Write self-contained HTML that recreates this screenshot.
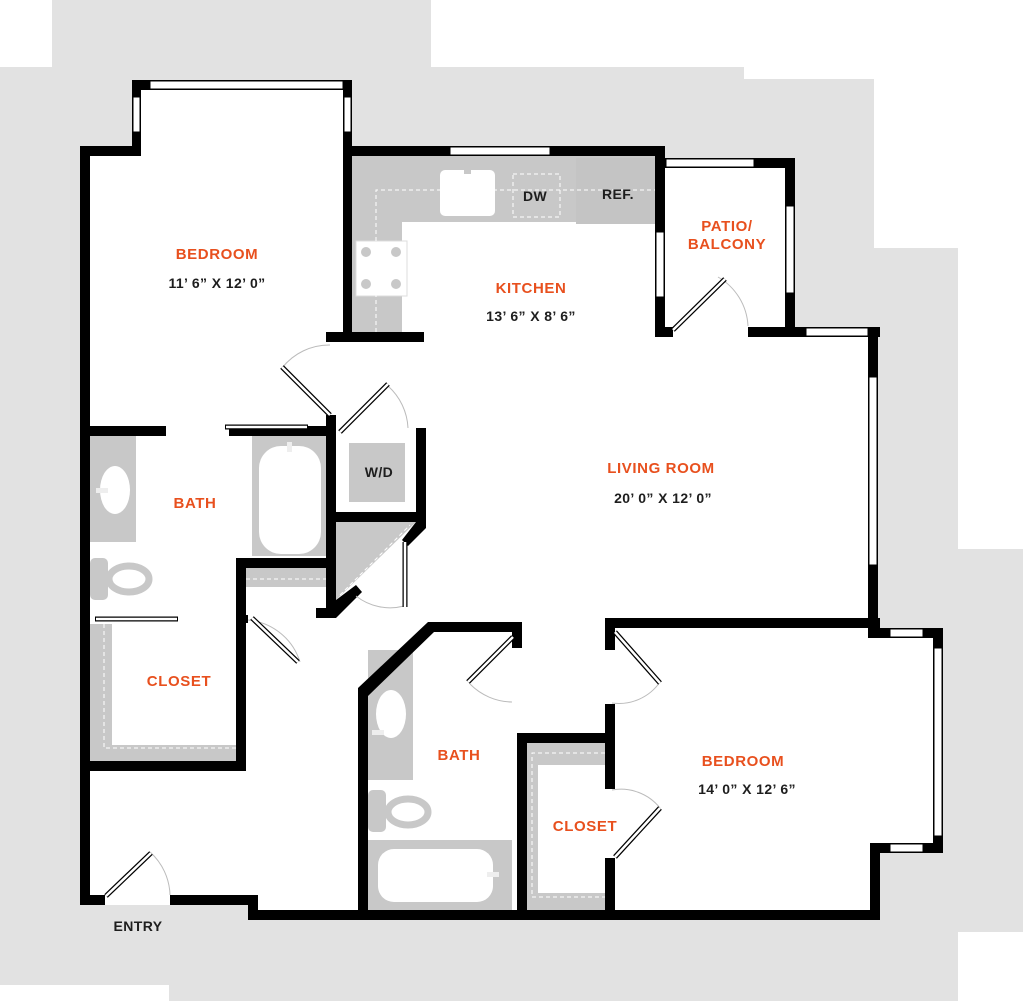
<!DOCTYPE html>
<html><head><meta charset="utf-8"><style>
html,body{margin:0;padding:0;background:#fff;}
svg{display:block}
.o{fill:#e8501e;font-family:"Liberation Sans",sans-serif;font-size:15px;font-weight:bold;letter-spacing:0.6px;text-anchor:middle}
.k{fill:#1e1e1e;font-family:"Liberation Sans",sans-serif;font-size:14px;font-weight:bold;letter-spacing:0.4px;text-anchor:middle}
</style></head><body>
<svg width="1024" height="1001" viewBox="0 0 1024 1001" xmlns="http://www.w3.org/2000/svg">
<polygon fill="#e2e2e2" points="52,0 431,0 431,67 744,67 744,79 874,79 874,248 958,248 958,549 1023,549 1023,932 958,932 958,1001 169,1001 169,985 0,985 0,67 52,67"/>
<polygon fill="#fff" points="80,146 132,146 132,80 352,80 352,146 665,146 665,158 795,158 795,327 878,327 878,628 943,628 943,853 880,853 880,920 248,920 248,905 80,905"/>
<g fill="#c8c8c8">
<rect x="352" y="156" width="303" height="66"/>
<rect x="352" y="156" width="50" height="176"/>
<rect x="576" y="158" width="79" height="66" fill="#c4c4c4"/>
<rect x="90" y="436" width="46" height="106"/>
<rect x="90" y="558" width="18" height="42" rx="5"/>
<rect x="252" y="436" width="74" height="120"/>
<rect x="246" y="568" width="80" height="19"/>
<rect x="90" y="624" width="22" height="138"/>
<rect x="90" y="745" width="146" height="17"/>
<polygon points="336,522 416,522 336,600"/>
<rect x="349" y="443" width="56" height="59"/>
<rect x="368" y="650" width="45" height="130"/>
<rect x="368" y="790" width="18" height="42" rx="5"/>
<rect x="368" y="840" width="144" height="70"/>
<rect x="527" y="743" width="78" height="167"/>
</g>
<g fill="#fff">
<rect x="440" y="170" width="55" height="46" rx="5"/>
<rect x="356" y="241" width="51" height="55" stroke="#ddd"/>
<rect x="259" y="446" width="62" height="108" rx="22"/>
<ellipse cx="115" cy="490" rx="15" ry="24"/>
<ellipse cx="129" cy="579" rx="20" ry="13" stroke="#c8c8c8" stroke-width="7"/>
<ellipse cx="391" cy="714" rx="15" ry="24"/>
<ellipse cx="408" cy="812" rx="20" ry="13" stroke="#c8c8c8" stroke-width="7"/>
<rect x="378" y="849" width="115" height="53" rx="16"/>
<rect x="112" y="624" width="124" height="121"/>
<rect x="538" y="765" width="67" height="128"/>
</g>
<g fill="#c8c8c8"><circle cx="366" cy="252" r="5"/><circle cx="396" cy="252" r="5"/><circle cx="366" cy="284" r="5"/><circle cx="396" cy="284" r="5"/>
<rect x="464" y="162" width="7" height="12"/><rect x="96" y="488" width="12" height="5" fill="#eee"/><rect x="372" y="730" width="12" height="5" fill="#eee"/><rect x="487" y="872" width="12" height="5" fill="#eee"/><rect x="287" y="442" width="5" height="10" fill="#eee"/></g>
<g fill="none" stroke="#fff" stroke-width="1" stroke-dasharray="4,3">
<path d="M376,332 V190 H655"/><rect x="513" y="174" width="47" height="43"/>
<path d="M104,624 V748 H236"/><path d="M246,579 H326"/><path d="M340,595 L410,525"/>
<path d="M605,753 H532 V897 H605"/>
</g>
<g fill="#000">
<rect x="132" y="80" width="220" height="10"/>
<rect x="132" y="80" width="9" height="76"/><rect x="343" y="80" width="9" height="76"/>
<rect x="80" y="146" width="61" height="10"/>
<rect x="80" y="146" width="10" height="759"/>
<rect x="343" y="146" width="322" height="10"/>
<rect x="655" y="146" width="10" height="191"/>
<rect x="655" y="158" width="140" height="10"/>
<rect x="785" y="158" width="10" height="179"/>
<rect x="655" y="327" width="18" height="10"/><rect x="748" y="327" width="132" height="10"/>
<rect x="868" y="327" width="10" height="311"/>
<rect x="868" y="628" width="75" height="10"/>
<rect x="933" y="628" width="10" height="225"/>
<rect x="870" y="843" width="73" height="10"/>
<rect x="870" y="843" width="10" height="77"/>
<rect x="248" y="910" width="632" height="10"/>
<rect x="170" y="895" width="88" height="10"/><rect x="248" y="895" width="10" height="25"/>
<rect x="80" y="895" width="25" height="10"/>
<rect x="343" y="156" width="9" height="186"/>
<rect x="326" y="332" width="98" height="10"/>
<rect x="80" y="426" width="86" height="10"/><rect x="229" y="426" width="107" height="10"/>
<rect x="326" y="415" width="10" height="195"/>
<rect x="416" y="428" width="10" height="94"/>
<rect x="336" y="512" width="90" height="10"/>
<polygon points="416,522 426,522 426,528 408,546 402,540"/>
<polygon points="326,600 336,600 356,585 362,592 336,618 316,618 316,608 326,608"/>
<rect x="236" y="558" width="10" height="213"/><rect x="236" y="558" width="94" height="10"/>
<rect x="80" y="761" width="166" height="10"/>
<rect x="236" y="615" width="12" height="8"/>
<polygon points="358,688 428,622 522,622 522,632 434,632 368,696 368,920 358,920"/>
<rect x="512" y="622" width="10" height="26"/>
<rect x="517" y="733" width="98" height="10"/><rect x="517" y="733" width="10" height="187"/>
<rect x="605" y="618" width="275" height="10"/>
<rect x="605" y="618" width="10" height="32"/>
<rect x="605" y="704" width="10" height="85"/>
<rect x="605" y="858" width="10" height="62"/>
</g>
<g fill="#fff" stroke="#000" stroke-width="1">
<rect x="150" y="81" width="193" height="8"/>
<rect x="133" y="97" width="7" height="35"/><rect x="344" y="97" width="7" height="35"/>
<rect x="450" y="147" width="100" height="8"/>
<rect x="666" y="159" width="88" height="8"/>
<rect x="786" y="206" width="8" height="87"/>
<rect x="656" y="232" width="8" height="65"/>
<rect x="806" y="328" width="62" height="8"/>
<rect x="869" y="377" width="8" height="188"/>
<rect x="890" y="629" width="33" height="8"/>
<rect x="934" y="648" width="8" height="188"/>
<rect x="890" y="844" width="33" height="8"/>
</g>
<g fill="none" stroke="#bbb" stroke-width="1">
<path d="M330,345 A60,60 0 0 0 282,368"/>
<path d="M388,386 A60,60 0 0 1 408,428"/>
<path d="M356,596 A55,55 0 0 0 404,606"/>
<path d="M248,620 A60,60 0 0 1 300,662"/>
<path d="M150,852 A60,60 0 0 1 170,895"/>
<path d="M470,684 A60,60 0 0 0 512,702"/>
<path d="M612,703 A50,50 0 0 0 660,682"/>
<path d="M612,790 A50,50 0 0 1 660,808"/>
<path d="M718,277 A60,60 0 0 1 748,326"/>
</g>
<g stroke="#000" stroke-width="5">
<line x1="282" y1="367" x2="330" y2="415"/>
<line x1="340" y1="432" x2="388" y2="384"/>
<line x1="405" y1="542" x2="405" y2="607"/>
<line x1="252" y1="618" x2="298" y2="662"/>
<line x1="106" y1="896" x2="151" y2="853"/>
<line x1="468" y1="682" x2="513" y2="637"/>
<line x1="615" y1="632" x2="660" y2="683"/>
<line x1="615" y1="857" x2="660" y2="808"/>
<line x1="673" y1="330" x2="725" y2="279"/>
<line x1="225" y1="427" x2="308" y2="427"/>
<line x1="95" y1="619" x2="178" y2="619"/>
</g>
<g stroke="#fff" stroke-width="2.5">
<line x1="282" y1="367" x2="330" y2="415"/>
<line x1="340" y1="432" x2="388" y2="384"/>
<line x1="405" y1="542" x2="405" y2="607"/>
<line x1="252" y1="618" x2="298" y2="662"/>
<line x1="106" y1="896" x2="151" y2="853"/>
<line x1="468" y1="682" x2="513" y2="637"/>
<line x1="615" y1="632" x2="660" y2="683"/>
<line x1="615" y1="857" x2="660" y2="808"/>
<line x1="673" y1="330" x2="725" y2="279"/>
<line x1="226" y1="427" x2="307" y2="427"/>
<line x1="96" y1="619" x2="177" y2="619"/>
</g>
<text class="o" x="217" y="259">BEDROOM</text>
<text class="k" x="217" y="288">11’ 6” X 12’ 0”</text>
<text class="o" x="531" y="293">KITCHEN</text>
<text class="k" x="531" y="321">13’ 6” X 8’ 6”</text>
<text class="o" x="727" y="231">PATIO/</text>
<text class="o" x="727" y="249">BALCONY</text>
<text class="o" x="661" y="473">LIVING ROOM</text>
<text class="k" x="663" y="503">20’ 0” X 12’ 0”</text>
<text class="o" x="195" y="508">BATH</text>
<text class="o" x="179" y="686">CLOSET</text>
<text class="o" x="459" y="760">BATH</text>
<text class="o" x="743" y="766">BEDROOM</text>
<text class="k" x="747" y="794">14’ 0” X 12’ 6”</text>
<text class="o" x="585" y="831">CLOSET</text>
<text class="k" x="138" y="931">ENTRY</text>
<text class="k" x="535" y="201">DW</text>
<text class="k" x="618" y="199">REF.</text>
<text class="k" x="379" y="477">W/D</text>
</svg>
</body></html>
